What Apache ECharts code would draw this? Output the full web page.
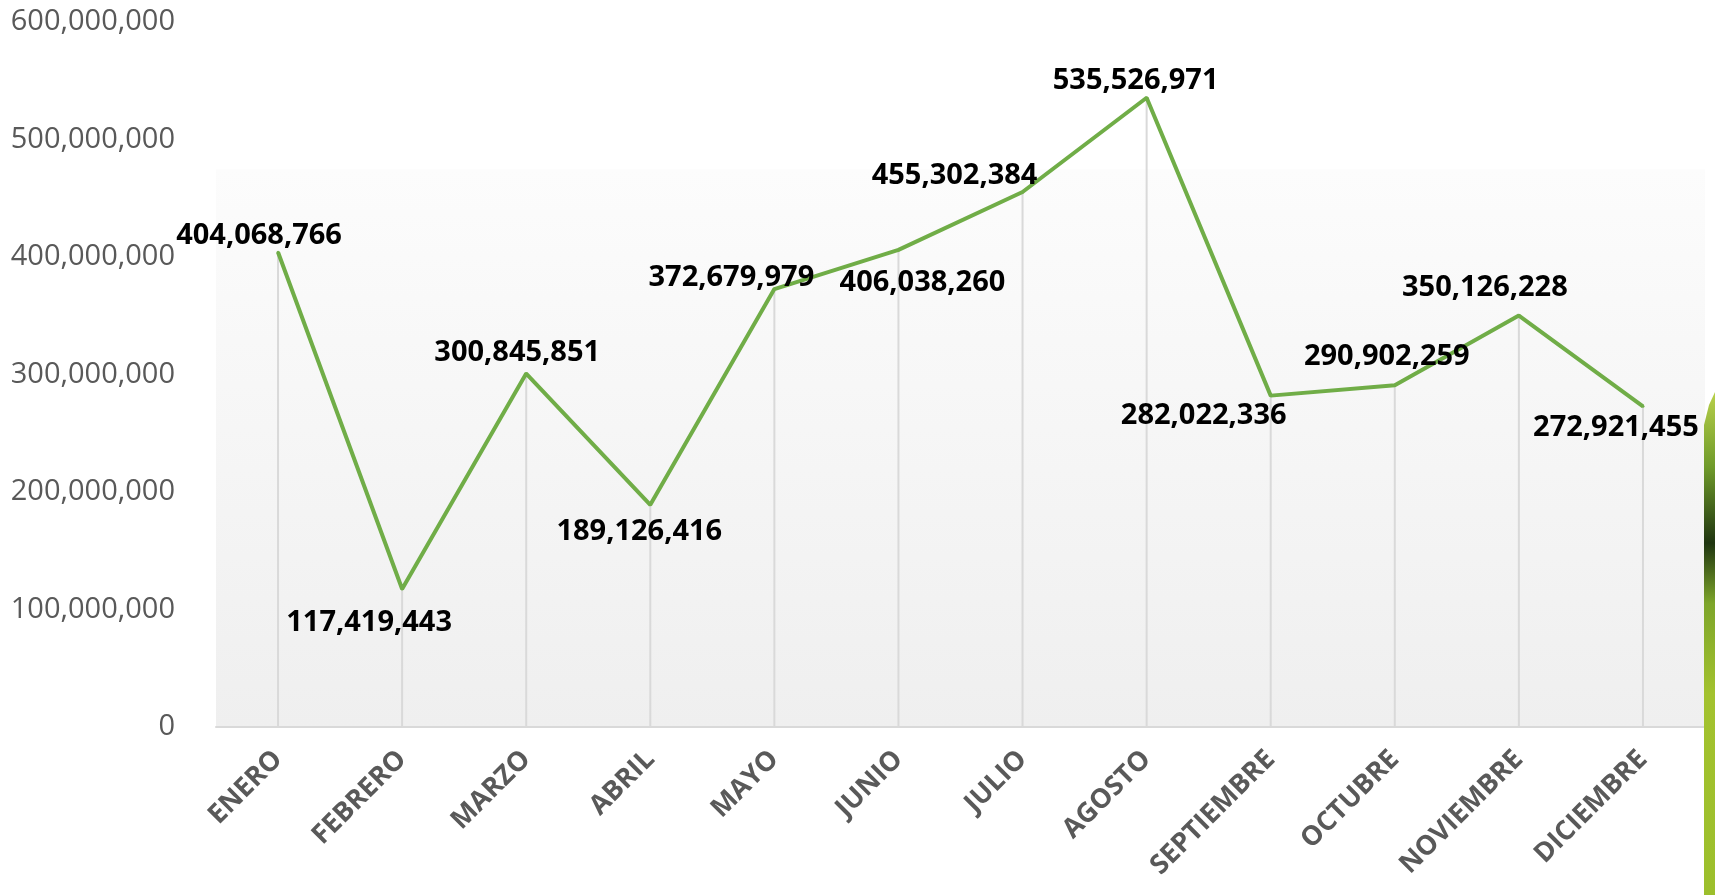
<!DOCTYPE html>
<html>
<head>
<meta charset="utf-8">
<script src="https://cdn.jsdelivr.net/npm/echarts@6/dist/echarts.min.js"></script>
<style>
html,body{margin:0;padding:0;background:#fff;}
#chart{width:1715px;height:895px;}
</style>
</head>
<body>
<div id="chart"></div>
<script>
const months = ['ENERO','FEBRERO','MARZO','ABRIL','MAYO','JUNIO','JULIO','AGOSTO','SEPTIEMBRE','OCTUBRE','NOVIEMBRE','DICIEMBRE'];
const values = [404068766,117419443,300845851,189126416,372679979,406038260,455302384,535526971,282022336,290902259,350126228,272921455];
const yTicks = {min:0, max:600000000, interval:100000000};

// label placement (style only, pixel offsets from each point)
const labelOffsets = [[-19,-16],[-33,34],[-9,-21],[-11,27],[-43,-11],[24,33],[-68,-16],[-11,-17],[-67,20],[-8,-28],[-34,-28],[-27,21]];

const fmt = v => Number(v).toLocaleString('en-US');

const chart = echarts.init(document.getElementById('chart'), null, {renderer:'canvas'});
chart.setOption({
  animation:false,
  backgroundColor:'#ffffff',
  grid:{left:216,right:10,top:22,bottom:168,show:true,borderWidth:0,
    backgroundColor:new echarts.graphic.LinearGradient(0,0,0,1,[
      {offset:0,color:'#ffffff'},{offset:0.208,color:'#ffffff'},
      {offset:0.21,color:'#fcfcfc'},{offset:1,color:'#efefef'}])},
  xAxis:{type:'category',data:months,boundaryGap:true,
    axisLine:{lineStyle:{color:'#d9d9d9',width:2}},
    axisTick:{show:false},
    axisLabel:{interval:0,rotate:45,margin:28,color:'#595959',fontSize:27,fontWeight:'bold',fontFamily:'Open Sans'}},
  yAxis:{type:'value',min:yTicks.min,max:yTicks.max,interval:yTicks.interval,
    axisLine:{show:false},axisTick:{show:false},splitLine:{show:false},
    axisLabel:{margin:41,color:'#595959',fontSize:29,fontFamily:'Open Sans',formatter:fmt}},
  graphic:[{type:'polygon',silent:true,z:100,
    shape:{points:[[1704,425],[1709,405],[1715,392],[1715,895],[1704,895]]},
    style:{fill:new echarts.graphic.LinearGradient(0,0,0,1,[
      {offset:0,color:'#b8d04a'},{offset:0.15,color:'#6f9a2a'},{offset:0.3,color:'#1f3510'},
      {offset:0.42,color:'#7da52a'},{offset:0.6,color:'#a3c22e'},{offset:1,color:'#9cbf2c'}])}}],
  series:[
    {type:'bar',data:values,barWidth:2,silent:true,z:1,itemStyle:{color:'#d9d9d9'}},
    {type:'line',z:3,symbol:'circle',symbolSize:3,
      itemStyle:{color:'#70AD47'},lineStyle:{color:'#70AD47',width:4},
      data:values.map((v,i)=>({value:v,label:{offset:labelOffsets[i]}})),
      label:{show:true,position:'inside',color:'#000',fontSize:29,fontWeight:'bold',fontFamily:'Open Sans',formatter:p=>fmt(p.value)}}
  ]
});
</script>
</body>
</html>
